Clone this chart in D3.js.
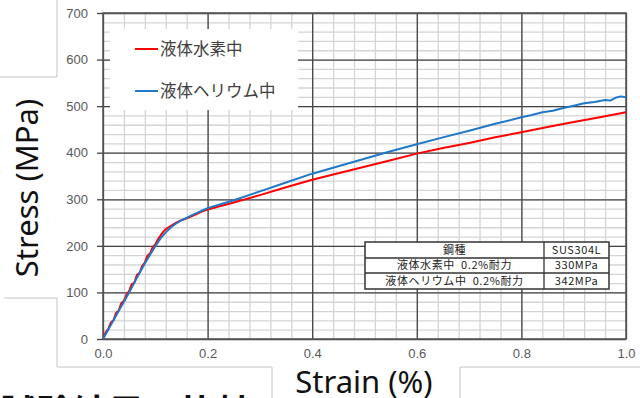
<!DOCTYPE html>
<html>
<head>
<meta charset="utf-8">
<script src="https://cdn.jsdelivr.net/npm/d3@7"></script>
<style>
  body { margin: 0; background: #fff; }
  svg { display: block; }
</style>
</head>
<body>
<div id="chart"></div>
<script>
const WIDTH = 640;
const HEIGHT = 398;

// strain (%) vs stress (MPa)
const h2Strain = [0, 0.005, 0.01, 0.015, 0.02, 0.025, 0.03, 0.035, 0.04, 0.045, 0.05, 0.055, 0.06, 0.065, 0.07, 0.075, 0.08, 0.085, 0.09, 0.095, 0.1, 0.105, 0.11, 0.115, 0.12, 0.13, 0.14, 0.15, 0.16, 0.17, 0.18, 0.19, 0.2, 0.25, 0.3, 0.35, 0.4, 0.45, 0.5, 0.55, 0.6, 0.65, 0.7, 0.75, 0.8, 0.85, 0.9, 0.95, 1.0];
const h2Stress = [0, 14, 21, 35, 40, 56, 61, 77, 82, 96, 103, 118, 121, 138, 142, 157, 164, 179, 184, 197, 203, 214, 222, 230, 236, 243, 250, 255, 259, 264, 269, 274, 278, 293, 309, 326, 342, 356, 370, 384, 398, 410, 421, 433, 444, 455, 466, 476, 487];

const heStrain = [0, 0.01, 0.02, 0.03, 0.04, 0.05, 0.06, 0.07, 0.08, 0.09, 0.1, 0.11, 0.12, 0.13, 0.14, 0.15, 0.16, 0.17, 0.18, 0.19, 0.2, 0.25, 0.3, 0.35, 0.4, 0.45, 0.5, 0.55, 0.6, 0.65, 0.7, 0.75, 0.8, 0.82, 0.84, 0.86, 0.88, 0.9, 0.92, 0.94, 0.96, 0.97, 0.98, 0.99, 1.0];
const heStress = [0, 20, 40, 60, 80, 100, 121, 142, 162, 181, 199, 216, 229, 240, 248, 255, 260, 266, 271, 276, 281, 298, 317, 336, 355, 371, 387, 403, 418, 433, 447, 462, 476, 481, 487, 490, 496, 501, 506, 509, 513, 512, 518, 521, 519];

const seriesNames = ['液体水素中', '液体ヘリウム中'];
const seriesColors = ['#ff0000', '#1f78c8'];

const xTicks = [0, 0.2, 0.4, 0.6, 0.8, 1.0];
const yTicks = [0, 100, 200, 300, 400, 500, 600, 700];

const tableRows = [
  ['鋼種', 'SUS304L'],
  ['液体水素中\u00a0\u00a00.2%耐力', '330MPa'],
  ['液体ヘリウム中\u00a0\u00a00.2%耐力', '342MPa']
];

const svg = d3.select('#chart')
  .append('svg')
  .attr('width', WIDTH)
  .attr('height', HEIGHT)
  .style('font-family', '"Liberation Sans", Arial, sans-serif');

const x = d3.scaleLinear().domain([0, 1]).range([103, 626]);
const y = d3.scaleLinear().domain([0, 700]).range([339, 13]);
const plotW = x(1) - x(0);
const plotH = y(0) - y(700);

// minor grid
svg.append('g')
  .attr('transform', `translate(0,${y(0)})`)
  .call(d3.axisBottom(x).tickValues(d3.range(0.04, 1, 0.04)).tickSize(-plotH).tickFormat(''))
  .call(g => g.select('.domain').remove())
  .call(g => g.selectAll('line').attr('stroke', '#d4d4d4').attr('stroke-width', 1.3));
svg.append('g')
  .attr('transform', `translate(${x(0)},0)`)
  .call(d3.axisLeft(y).tickValues(d3.range(20, 700, 20)).tickSize(-plotW).tickFormat(''))
  .call(g => g.select('.domain').remove())
  .call(g => g.selectAll('line').attr('stroke', '#d4d4d4').attr('stroke-width', 1.3));

// major grid
svg.append('g')
  .attr('transform', `translate(0,${y(0)})`)
  .call(d3.axisBottom(x).tickValues(xTicks).tickSize(-plotH).tickFormat(''))
  .call(g => g.select('.domain').remove())
  .call(g => g.selectAll('line').attr('stroke', '#444').attr('stroke-width', 1.3));
svg.append('g')
  .attr('transform', `translate(${x(0)},0)`)
  .call(d3.axisLeft(y).tickValues(yTicks).tickSize(-plotW).tickFormat(''))
  .call(g => g.select('.domain').remove())
  .call(g => g.selectAll('line').attr('stroke', '#444').attr('stroke-width', 1.3));

// legend box hides the grid
svg.append('rect')
  .attr('x', 110).attr('y', 29)
  .attr('width', 188).attr('height', 81)
  .attr('fill', '#fff');

// frame
svg.append('rect')
  .attr('x', x(0)).attr('y', y(700))
  .attr('width', plotW).attr('height', plotH)
  .attr('fill', 'none')
  .attr('stroke', '#555')
  .attr('stroke-width', 1.5);

// axis labels
svg.append('g')
  .attr('transform', `translate(${x(0)},0)`)
  .call(d3.axisLeft(y).tickValues(yTicks).tickSize(6).tickPadding(9).tickFormat(d3.format('d')))
  .call(g => g.select('.domain').remove())
  .call(g => g.selectAll('line').attr('stroke', '#444').attr('stroke-width', 1.3))
  .call(g => g.selectAll('text').attr('font-size', 13).attr('fill', '#595959')
    .attr('font-family', '"Liberation Sans", Arial, sans-serif'));
svg.append('g')
  .attr('transform', `translate(0,${y(0)})`)
  .call(d3.axisBottom(x).tickValues(xTicks).tickSize(0).tickPadding(10).tickFormat(d3.format('.1f')))
  .call(g => g.select('.domain').remove())
  .call(g => g.selectAll('text').attr('font-size', 13).attr('fill', '#595959')
    .attr('font-family', '"Liberation Sans", Arial, sans-serif'));

// curves
const line = d3.line().x(d => x(d[0])).y(d => y(d[1]));
const series = [d3.zip(h2Strain, h2Stress), d3.zip(heStrain, heStress)];
series.forEach((s, i) => {
  svg.append('path')
    .datum(s)
    .attr('d', line)
    .attr('fill', 'none')
    .attr('stroke', seriesColors[i])
    .attr('stroke-width', 2)
    .attr('stroke-linejoin', 'round');
});

// legend
const legend = svg.selectAll('.legend')
  .data(seriesNames)
  .enter()
  .append('g')
  .attr('transform', (d, i) => `translate(135,${49 + i * 42})`);
legend.append('line')
  .attr('x1', 0).attr('x2', 23)
  .attr('stroke', (d, i) => seriesColors[i])
  .attr('stroke-width', 2);
legend.append('text')
  .attr('x', 25)
  .attr('dy', '0.36em')
  .attr('font-size', 16.5)
  .attr('fill', '#404040')
  .attr('font-family', '"Noto Sans CJK JP", sans-serif')
  .text(d => d);

// info table
const tX = [365, 544, 609];
const tY = [242, 258, 273, 289];
const table = svg.append('g');
table.append('rect')
  .attr('x', tX[0]).attr('y', tY[0])
  .attr('width', tX[2] - tX[0]).attr('height', tY[3] - tY[0])
  .attr('fill', '#fff')
  .attr('stroke', '#333')
  .attr('stroke-width', 1.5);
table.append('line')
  .attr('x1', tX[1]).attr('x2', tX[1]).attr('y1', tY[0]).attr('y2', tY[3])
  .attr('stroke', '#333').attr('stroke-width', 1.3);
[tY[1], tY[2]].forEach(v => {
  table.append('line')
    .attr('x1', tX[0]).attr('x2', tX[2]).attr('y1', v).attr('y2', v)
    .attr('stroke', '#333').attr('stroke-width', 1.3);
});
tableRows.forEach((r, i) => {
  const cy = (tY[i] + tY[i + 1]) / 2;
  r.forEach((t, j) => {
    table.append('text')
      .attr('x', (tX[j] + tX[j + 1]) / 2)
      .attr('y', cy)
      .attr('dy', '0.36em')
      .attr('text-anchor', 'middle')
      .attr('font-size', 11)
      .attr('letter-spacing', 0.6)
      .attr('fill', '#222')
      .attr('font-family', '"Noto Sans CJK JP", sans-serif')
      .text(t);
  });
});

// axis titles
svg.append('text')
  .attr('transform', 'translate(38,188) rotate(-90)')
  .attr('text-anchor', 'middle')
  .attr('font-size', 31)
  .attr('fill', '#111')
  .attr('font-family', '"Noto Sans", sans-serif')
  .text('Stress (MPa)');
svg.append('text')
  .attr('x', 364)
  .attr('y', 393)
  .attr('text-anchor', 'middle')
  .attr('font-size', 31)
  .attr('fill', '#111')
  .attr('font-family', '"Noto Sans", sans-serif')
  .text('Strain (%)');

// leftover slide boxes around the chart
const boxes = svg.append('g')
  .attr('fill', 'none')
  .attr('stroke', '#c4c4c4')
  .attr('stroke-width', 1);
boxes.append('path').attr('d', 'M0,77H57V0');
boxes.append('path').attr('d', 'M4,298H57V367H272V398');
boxes.append('path').attr('d', 'M460,398V367H640');

// slide caption cut off at the bottom
svg.append('text')
  .attr('x', 0)
  .attr('y', 426)
  .attr('font-size', 36)
  .attr('font-weight', 700)
  .attr('fill', '#111')
  .attr('font-family', '"Noto Sans CJK JP", sans-serif')
  .text('試験結果の比較');
</script>
</body>
</html>
